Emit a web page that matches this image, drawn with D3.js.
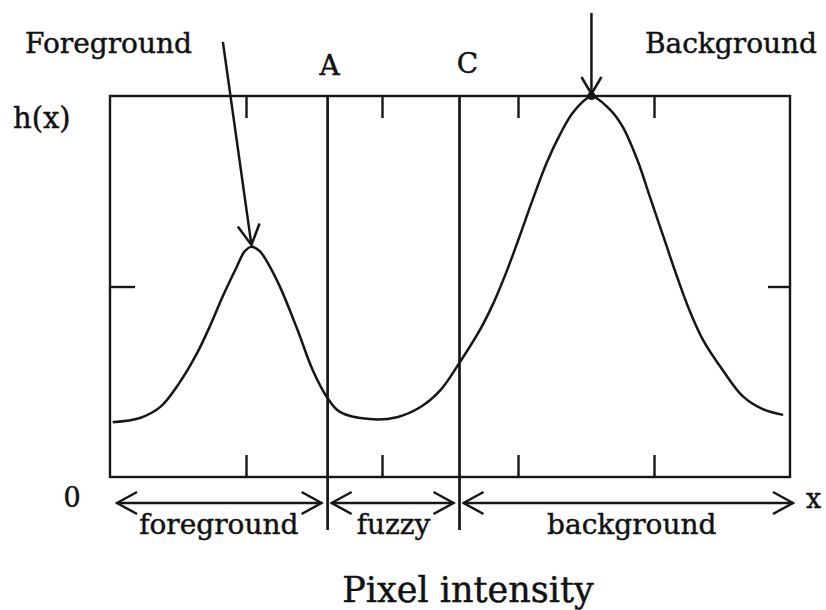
<!DOCTYPE html>
<html>
<head>
<meta charset="utf-8">
<script src="https://cdn.jsdelivr.net/npm/d3@7"></script>
<style>
  body { margin: 0; background: #fff; }
  svg text { font-family: "DejaVu Serif", serif; fill: #111; stroke: #111; stroke-width: 0.45; }
</style>
</head>
<body>
<svg width="826" height="610"></svg>
<script>
// histogram curve (x: pixel intensity 0..5, y: h(x) 0..1)
var curveX = [0.02, 0.22, 0.37, 0.51, 0.64, 0.74, 0.83, 0.93, 0.99, 1.04, 1.1, 1.15, 1.25, 1.38,
  1.49, 1.6, 1.69, 1.91, 2.11, 2.28, 2.43, 2.57, 2.72, 2.82, 2.92, 3.01, 3.1, 3.21,
  3.31, 3.4, 3.51, 3.54, 3.68, 3.77, 3.88, 3.97, 4.07, 4.17, 4.26, 4.36, 4.51, 4.65, 4.8, 4.95];
var curveY = [0.144, 0.155, 0.184, 0.247, 0.325, 0.4, 0.475, 0.55, 0.592, 0.604, 0.593, 0.568, 0.499, 0.385,
  0.281, 0.207, 0.171, 0.152, 0.157, 0.183, 0.228, 0.3, 0.386, 0.457, 0.543, 0.63, 0.72, 0.824,
  0.9, 0.955, 0.995, 1.0, 0.963, 0.919, 0.83, 0.735, 0.63, 0.525, 0.438, 0.36, 0.278, 0.213, 0.178, 0.163];

var xTicks = [1, 2, 3, 4];
var yTicks = [0.5];

// thresholds
var thresholdNames = ["A", "C"];
var thresholdValues = [1.6, 2.57];

// class ranges along the x axis
var rangeNames = ["foreground", "fuzzy", "background"];
var rangeStart = [0, 1.6, 2.57];
var rangeEnd = [1.6, 2.57, 5];

// peak pointers: label, arrow start, peak
var peakNames = ["Foreground", "Background"];
var peakFrom = [[0.83, 1.142], [3.54, 1.218]];
var peakTo = [[1.04, 0.604], [3.54, 1.0]];

var svg = d3.select("svg");
var defs = svg.append("defs");

var x = d3.scaleLinear().domain([0, 5]).range([110, 790]);
var y = d3.scaleLinear().domain([0, 1]).range([477, 96]);

var ink = "#161616";

// open arrowheads
defs
  .append("marker")
  .attr("id", "head")
  .attr("markerUnits", "userSpaceOnUse")
  .attr("viewBox", "-22 -13 24 26")
  .attr("refX", 0)
  .attr("refY", 0)
  .attr("markerWidth", 24)
  .attr("markerHeight", 26)
  .attr("orient", "auto-start-reverse")
  .append("path")
  .attr("d", "M-20,-11L0,0L-20,11")
  .attr("fill", "none")
  .attr("stroke", ink)
  .attr("stroke-width", 2.5);

defs
  .append("marker")
  .attr("id", "head-small")
  .attr("markerUnits", "userSpaceOnUse")
  .attr("viewBox", "-20 -12 22 24")
  .attr("refX", 0)
  .attr("refY", 0)
  .attr("markerWidth", 22)
  .attr("markerHeight", 24)
  .attr("orient", "auto")
  .append("path")
  .attr("d", "M-17,-10L0,0L-17,10")
  .attr("fill", "none")
  .attr("stroke", ink)
  .attr("stroke-width", 2.5);

var g = svg.append("g");

// frame
g
  .append("rect")
  .attr("x", x(0))
  .attr("y", y(1))
  .attr("width", x(5) - x(0))
  .attr("height", y(0) - y(1))
  .attr("fill", "none")
  .attr("stroke", ink)
  .attr("stroke-width", 2.4);

// inward ticks on all four sides
function ticks(axis, tx, ty) {
  var a = g
    .append("g")
    .attr("transform", "translate(" + tx + "," + ty + ")")
    .call(axis.tickFormat("").tickSizeOuter(0));
  a.select(".domain").remove();
  a.selectAll("line").attr("stroke", ink).attr("stroke-width", 2.4);
}
ticks(d3.axisBottom(x).tickValues(xTicks).tickSize(22), 0, y(1));
ticks(d3.axisTop(x).tickValues(xTicks).tickSize(22), 0, y(0));
ticks(d3.axisRight(y).tickValues(yTicks).tickSize(25), x(0), 0);
ticks(d3.axisLeft(y).tickValues(yTicks).tickSize(22), x(5), 0);

// threshold lines
thresholdValues.forEach(function(v, i) {
  g
    .append("line")
    .attr("x1", x(v))
    .attr("x2", x(v))
    .attr("y1", y(1))
    .attr("y2", 530)
    .attr("stroke", ink)
    .attr("stroke-width", 2.7);
  g
    .append("text")
    .attr("x", x(v) + (i ? 8 : 2))
    .attr("y", i ? 73 : 75)
    .attr("text-anchor", "middle")
    .attr("font-size", 28)
    .text(thresholdNames[i]);
});

// histogram
var line = d3
  .line()
  .x(function(d, i) {
    return x(curveX[i]);
  })
  .y(function(d, i) {
    return y(curveY[i]);
  })
  .curve(d3.curveCatmullRom.alpha(0.5));

g
  .append("path")
  .datum(curveX)
  .attr("d", line)
  .attr("fill", "none")
  .attr("stroke", ink)
  .attr("stroke-width", 2.5);

// pointers to the peaks
peakNames.forEach(function(name, i) {
  g
    .append("line")
    .attr("x1", x(peakFrom[i][0]))
    .attr("y1", y(peakFrom[i][1]))
    .attr("x2", x(peakTo[i][0]))
    .attr("y2", y(peakTo[i][1]) - 2)
    .attr("stroke", ink)
    .attr("stroke-width", 2.5)
    .attr("marker-end", i ? "url(#head-small)" : "url(#head)");
});

g
  .append("circle")
  .attr("cx", x(peakTo[1][0]))
  .attr("cy", y(peakTo[1][1]))
  .attr("r", 4)
  .attr("fill", ink);

g
  .append("text")
  .attr("x", 25)
  .attr("y", 53)
  .attr("font-size", 28)
  .text(peakNames[0]);

g
  .append("text")
  .attr("x", 817)
  .attr("y", 53)
  .attr("text-anchor", "end")
  .attr("font-size", 28)
  .text(peakNames[1]);

// range arrows under the axis
var gapL = [7, 4, 4],
  gapR = [6, 6, -3];

rangeNames.forEach(function(name, i) {
  var x0 = x(rangeStart[i]) + gapL[i],
    x1 = x(rangeEnd[i]) - gapR[i];
  g
    .append("line")
    .attr("x1", x0)
    .attr("x2", x1)
    .attr("y1", 503)
    .attr("y2", 503)
    .attr("stroke", ink)
    .attr("stroke-width", 2.5)
    .attr("marker-start", "url(#head)")
    .attr("marker-end", "url(#head)");
  g
    .append("text")
    .attr("x", (x(rangeStart[i]) + x(rangeEnd[i])) / 2 + (i == 2 ? 7 : 0))
    .attr("y", 534)
    .attr("text-anchor", "middle")
    .attr("font-size", 28)
    .text(name);
});

// axis labels
g
  .append("text")
  .attr("x", 13)
  .attr("y", 128)
  .attr("font-size", 29)
  .text("h(x)");

g
  .append("text")
  .attr("x", 72)
  .attr("y", 507)
  .attr("text-anchor", "middle")
  .attr("font-size", 27)
  .text("0");

g
  .append("text")
  .attr("x", 806)
  .attr("y", 508)
  .attr("font-size", 27)
  .text("x");

g
  .append("text")
  .attr("x", 468)
  .attr("y", 602)
  .attr("text-anchor", "middle")
  .attr("font-size", 35)
  .text("Pixel intensity");
</script>
</body>
</html>
